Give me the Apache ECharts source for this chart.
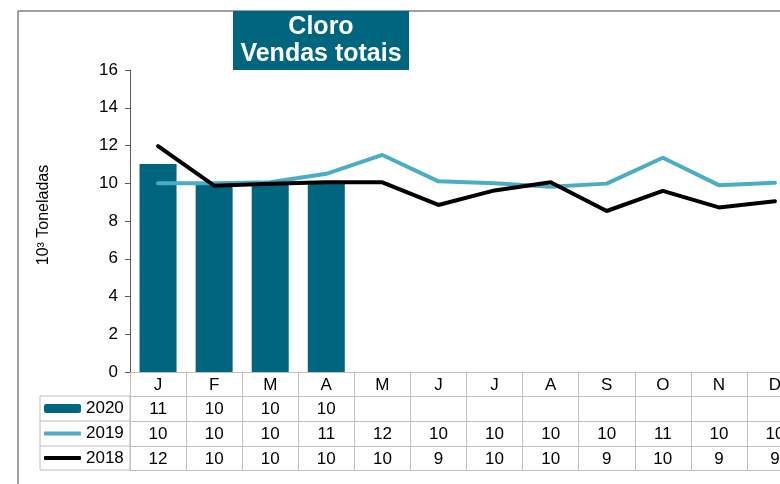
<!DOCTYPE html>
<html>
<head>
<meta charset="utf-8">
<script src="https://cdn.jsdelivr.net/npm/echarts@6/dist/echarts.min.js"></script>
<style>
  html, body { margin: 0; padding: 0; background: #fff; overflow: hidden; }
  /* o grafico original esta cortado a direita: o div e mais largo que a janela */
  #chart { width: 810px; height: 484px; }
</style>
</head>
<body>
<div id="chart"></div>
<script>
// meses e valores (10^3 toneladas)
const meses = ['J', 'F', 'M', 'A', 'M', 'J', 'J', 'A', 'S', 'O', 'N', 'D'];
const vendas2020 = [11.02, 10.0, 10.0, 10.0, null, null, null, null, null, null, null, null];
const vendas2019 = [10.0, 10.0, 10.05, 10.5, 11.5, 10.1, 10.0, 9.82, 9.98, 11.35, 9.9, 10.02];
const vendas2018 = [11.97, 9.87, 9.97, 10.05, 10.05, 8.85, 9.62, 10.05, 8.53, 9.6, 8.72, 9.05];
const yTicks = [0, 2, 4, 6, 8, 10, 12, 14, 16];

const corBarra = '#00657F';
const cor2019 = '#4BACC6';
const cor2018 = '#000000';
const corTabela = '#BFBFBF';
const fonte = '"Liberation Sans", Arial, sans-serif';

// linhas da tabela, arredondadas
function linha(valores) {
  return valores.map(v => (v == null ? '' : String(Math.round(v))));
}

function eixoTabela(valores, offset) {
  return {
    type: 'category',
    gridIndex: 0,
    position: 'bottom',
    offset: offset,
    data: valores ? linha(valores) : meses.map(() => ''),
    axisLine: { show: true, lineStyle: { color: corTabela, width: 1 } },
    axisTick: { show: false },
    splitLine: { show: false },
    axisLabel: { show: !!valores, interval: 0, margin: 5, fontSize: 17, color: '#000', fontFamily: fonte }
  };
}

function legendaLinha(nome, top, altura) {
  return {
    data: [{ name: nome, icon: 'roundRect' }],
    left: 44,
    top: top,
    padding: 0,
    itemWidth: 37,
    itemHeight: altura,
    itemGap: 0,
    itemTextGap: 4,
    selectedMode: false,
    textStyle: { fontSize: 17, color: '#000', fontFamily: fonte }
  };
}

const chart = echarts.init(document.getElementById('chart'));

const option = {
  animation: false,
  textStyle: { fontFamily: fonte },
  grid: { left: 130, right: 7, top: 70, bottom: 112, containLabel: false },
  legend: [
    legendaLinha('2020', 400, 9),
    legendaLinha('2019', 425, 4),
    legendaLinha('2018', 449.5, 4)
  ],
  xAxis: [
    {
      type: 'category',
      data: meses,
      axisLine: { show: true, lineStyle: { color: corTabela, width: 1 } },
      axisTick: { show: true, length: 98, lineStyle: { color: corTabela, width: 1 } },
      axisLabel: { interval: 0, margin: 5, fontSize: 17, color: '#000', fontFamily: fonte },
      splitLine: { show: false }
    },
    eixoTabela(vendas2020, 24),
    eixoTabela(vendas2019, 49),
    eixoTabela(vendas2018, 74),
    eixoTabela(null, 98)
  ],
  yAxis: {
    type: 'value',
    min: yTicks[0],
    max: yTicks[yTicks.length - 1],
    interval: 2,
    name: '10³ Toneladas',
    nameLocation: 'middle',
    nameRotate: 90,
    nameGap: 78,
    nameTextStyle: { fontSize: 16, color: '#000', fontFamily: fonte, padding: [0, 0, 0, 12] },
    axisLine: { show: true, lineStyle: { color: '#595959', width: 1 } },
    axisTick: { show: true, length: 5, lineStyle: { color: '#595959' } },
    axisLabel: { margin: 12, fontSize: 17, color: '#000', fontFamily: fonte },
    splitLine: { show: false }
  },
  series: [
    {
      name: '2020',
      type: 'bar',
      data: vendas2020,
      barWidth: 37,
      itemStyle: { color: corBarra }
    },
    {
      name: '2019',
      type: 'line',
      data: vendas2019,
      symbol: 'none',
      lineStyle: { color: cor2019, width: 4, cap: 'round' },
      itemStyle: { color: cor2019 }
    },
    {
      name: '2018',
      type: 'line',
      data: vendas2018,
      symbol: 'none',
      lineStyle: { color: cor2018, width: 4, cap: 'round' },
      itemStyle: { color: cor2018 }
    }
  ],
  graphic: [
    // moldura
    { type: 'line', shape: { x1: 18, y1: 11, x2: 810, y2: 11 }, style: { stroke: '#404040', lineWidth: 1 } },
    { type: 'line', shape: { x1: 18, y1: 11, x2: 18, y2: 484 }, style: { stroke: '#404040', lineWidth: 1 } },
    // coluna da legenda na tabela
    { type: 'rect', shape: { x: 40, y: 396, width: 90, height: 74 }, style: { fill: 'none', stroke: corTabela, lineWidth: 1 } },
    { type: 'line', shape: { x1: 40, y1: 421, x2: 130, y2: 421 }, style: { stroke: corTabela, lineWidth: 1 } },
    { type: 'line', shape: { x1: 40, y1: 446, x2: 130, y2: 446 }, style: { stroke: corTabela, lineWidth: 1 } },
    // titulo
    {
      type: 'group',
      children: [
        { type: 'rect', shape: { x: 233, y: 11, width: 176, height: 59 }, style: { fill: corBarra } },
        {
          type: 'text',
          x: 321,
          y: 40.5,
          style: {
            text: 'Cloro\nVendas totais',
            fill: '#fff',
            font: 'bold 25px ' + fonte,
            lineHeight: 27,
            align: 'center',
            verticalAlign: 'middle'
          }
        }
      ]
    }
  ]
};

chart.setOption(option);
</script>
</body>
</html>
